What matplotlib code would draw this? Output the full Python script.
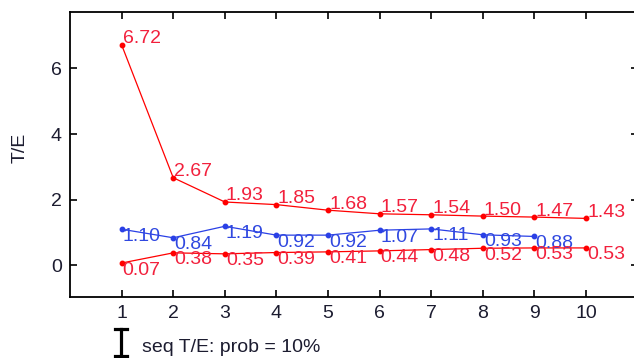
import matplotlib
matplotlib.use("Agg")
import matplotlib.pyplot as plt
from matplotlib.lines import Line2D

plt.rcParams['font.family'] = ['Liberation Sans', 'DejaVu Sans']

# values
steps = [1, 2, 3, 4, 5, 6, 7, 8, 9, 10]
red_top = [6.72, 2.67, 1.93, 1.85, 1.68, 1.57, 1.54, 1.50, 1.47, 1.43]
red_low = [0.07, 0.38, 0.35, 0.39, 0.41, 0.44, 0.48, 0.52, 0.53, 0.53]
blue_steps = [1, 2, 3, 4, 5, 6, 7, 8, 9]
blue_mid = [1.10, 0.84, 1.19, 0.92, 0.92, 1.07, 1.11, 0.93, 0.88]
yticks = [0, 2, 4, 6]
legend_label = 'seq T/E: prob = 10%'

RED = '#ff0000'
RED_TXT = '#f2203c'
BLUE = '#2a40e6'
BLUE_TXT = '#3048e0'
TICK_COL = '#1c1c30'

W, H = 634, 358
fig = plt.figure(figsize=(W / 100, H / 100), dpi=100)
# axes box in pixels: left 70, right ~638 (just past the picture edge), top 12, bottom 296.5
ax = fig.add_axes([70 / W, (H - 296.5) / H, (637.7 - 70) / W, (296.5 - 12) / H])

ax.plot(steps, red_top, color=RED, lw=0.9, marker='o', ms=3.2)
ax.plot(steps, red_low, color=RED, lw=0.9, marker='o', ms=3.2)
ax.plot(blue_steps, blue_mid, color=BLUE, lw=0.9, marker='o', ms=3.2)

# value labels
for x, y in zip(steps, red_top):
    ax.annotate(f'{y:.2f}', (x, y), xytext=(1, 6), textcoords='offset pixels',
                color=RED_TXT, fontsize=14, ha='left', va='center')
for x, y in zip(blue_steps, blue_mid):
    ax.annotate(f'{y:.2f}', (x, y), xytext=(1, -7), textcoords='offset pixels',
                color=BLUE_TXT, fontsize=14, ha='left', va='center')
for x, y in zip(steps, red_low):
    ax.annotate(f'{y:.2f}', (x, y), xytext=(1, -7), textcoords='offset pixels',
                color=RED_TXT, fontsize=14, ha='left', va='center')

ax.set_xlim(0, 11)
ax.set_ylim(-0.95, 7.72)
ax.set_xticks(steps)
ax.set_yticks(yticks)
ax.tick_params(direction='in', length=5, width=1.2, top=True, right=True,
               labelsize=14, labelcolor=TICK_COL, pad=6)
for s in ax.spines.values():
    s.set_linewidth(1.3)
# the right border falls outside the cropped picture
ax.spines['right'].set_visible(False)

fig.text(20 / W, 1 - 148 / H, 'T/E', rotation=90, ha='center', va='center',
         fontsize=14, color=TICK_COL)

# legend entry: error bar glyph + label
gx, gy0, gy1 = 121 / W, 1 - 329 / H, 1 - 356 / H
fig.add_artist(Line2D([gx, gx], [gy0, gy1], color='black', lw=2.3))
fig.add_artist(Line2D([gx - 6 / W, gx + 6 / W], [gy0, gy0], color='black', lw=2.3))
fig.add_artist(Line2D([gx - 6 / W, gx + 6 / W], [gy1, gy1], color='black', lw=2.3))
fig.text(142 / W, 1 - 348 / H, legend_label, ha='left', va='center',
         fontsize=14, color=TICK_COL)

fig.savefig('out.png', dpi=100, facecolor='white')
